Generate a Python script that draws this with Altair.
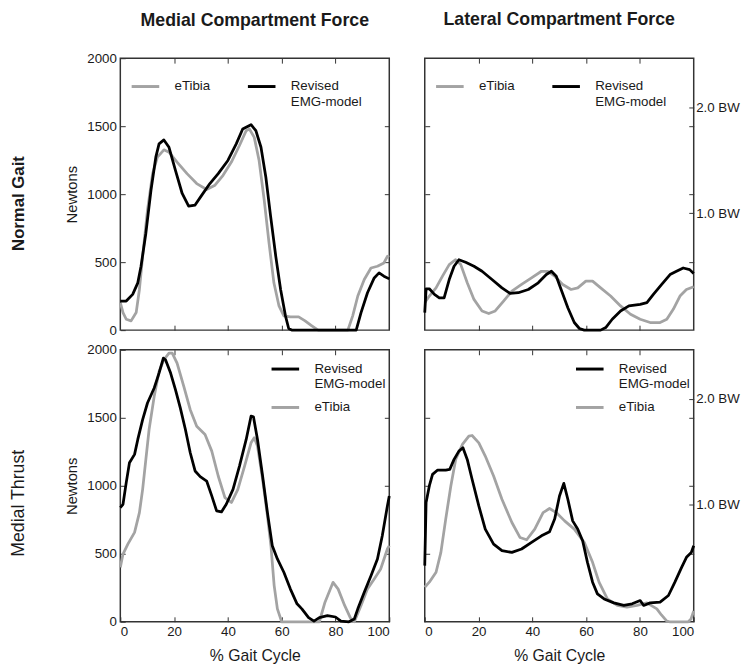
import json
import altair as alt
import pandas as pd

# ---------------- data ----------------
# Normal gait - medial compartment
ng_med_etibia_x = [0, 1, 2.2, 4.0, 5.9, 7.1, 8.3, 10.1, 12.0, 13.8, 16.2, 18.1, 21.1, 24.8, 28.4, 32.1, 35.2,
                   38.2, 41.3, 44.3, 46.8, 48.0, 49.8, 51.6, 53.5, 55.3, 57.1, 59.0, 60.8, 63.2, 66.3, 68.7,
                   71.2, 73.0, 73.6, 84.6, 86.4, 88.3, 90.7, 93.2, 95.6, 98.0, 99.3, 100]
ng_med_etibia_y = [202, 129, 80, 68, 129, 299, 543, 883, 1151, 1272, 1326, 1309, 1236, 1151, 1078, 1034, 1066,
                   1139, 1236, 1358, 1467, 1479, 1418, 1248, 956, 640, 348, 178, 105, 97, 97, 68,
                   32, 7, 0, 0, 105, 251, 372, 457, 470, 494, 543, 547]
ng_med_emg_x = [0, 2.2, 4.6, 6.5, 7.7, 9.5, 11.4, 13.2, 14.4, 16.2, 18.1, 20.5, 23.0, 25.4, 27.8, 30.3, 33.3,
                36.4, 40.0, 43.1, 45.5, 48.6, 50.4, 52.3, 54.1, 55.9, 57.8, 59.6, 61.4, 62.6, 63.9, 87.7,
                89.5, 91.9, 94.4, 96.2, 98.0, 100]
ng_med_emg_y = [214, 214, 263, 348, 470, 713, 1029, 1272, 1370, 1399, 1345, 1175, 1005, 912, 920, 993, 1078,
                1151, 1248, 1370, 1479, 1511, 1467, 1345, 1126, 835, 543, 299, 105, 12, 0, 0,
                129, 275, 384, 421, 397, 377]

# Normal gait - lateral compartment
ng_lat_etibia_x = [0, 1.7, 4.2, 6.6, 9.1, 11.5, 13.4, 15.8, 18.3, 21.3, 23.8, 26.2, 29.3, 32.4, 36.0, 39.7,
                   43.4, 45.8, 48.3, 51.3, 54.4, 56.9, 59.9, 62.4, 65.4, 69.1, 72.8, 76.5, 80.1, 83.8, 87.5,
                   90.0, 92.4, 94.9, 97.3, 100]
ng_lat_etibia_y = [202, 251, 311, 397, 482, 518, 482, 348, 226, 141, 122, 141, 214, 287, 336, 384,
                   433, 433, 397, 336, 299, 311, 360, 360, 311, 251, 178, 117, 80, 56, 56,
                   80, 153, 251, 299, 319]
ng_lat_emg_x = [0, 0.5, 1.7, 3.6, 5.4, 7.2, 9.1, 10.9, 12.7, 15.2, 18.3, 21.3, 25.0, 28.7, 31.7, 34.8, 38.5,
                42.2, 45.2, 47.1, 48.9, 50.7, 53.2, 55.6, 57.5, 59.3, 65.4, 67.3, 69.7, 72.8, 75.9, 80.1,
                82.6, 85.0, 88.1, 91.2, 93.6, 96.1, 98.5, 100]
ng_lat_emg_y = [129, 304, 304, 263, 238, 238, 372, 470, 518, 499, 470, 433, 372, 311, 270, 275, 299,
                348, 409, 433, 397, 299, 165, 56, 12, 0, 0, 19, 80, 141, 178, 190,
                202, 263, 336, 409, 433, 457, 445, 416]

# Medial thrust - medial compartment
mt_med_etibia_x = [0, 1, 2.8, 5.3, 7.1, 8.3, 9.5, 10.7, 12.6, 14.4, 16.2, 18.1, 19.3, 21.1, 23.6, 26.0, 28.4,
                   31.5, 34.0, 36.4, 38.9, 41.3, 43.7, 46.2, 48.6, 49.8, 51.0, 52.9, 54.7, 56.0, 57.2, 58.4,
                   60, 74, 76.1, 79.1, 81, 83.4, 85.5, 87, 89.5, 91.9, 94.4, 96.8, 99.3, 100]
mt_med_etibia_y = [400, 498, 571, 657, 803, 974, 1194, 1414, 1658, 1841, 1927, 1976, 1976, 1902, 1731, 1560, 1438,
                   1377, 1255, 1072, 913, 877, 974, 1145, 1316, 1353, 1292, 1048, 779, 559, 266, 95,
                   0, 0, 144, 290, 240, 120, 30, 0, 120, 242, 315, 388, 535, 560]
mt_med_emg_x = [0, 1, 2.2, 3.4, 5.3, 6.5, 8.3, 10.1, 12.6, 14.4, 16.0, 16.8, 18.7, 20.5, 22.3, 24.2, 26.0,
                27.8, 29.7, 32.1, 34.0, 35.8, 37.6, 39.4, 41.9, 44.3, 46.8, 48.6, 49.5, 51.0, 52.9, 54.7,
                56.5, 58.4, 60.8, 63.2, 65.7, 67.5, 70, 72, 74, 77, 80, 82, 85, 87, 88.3, 90.7, 93.2,
                95.6, 97.4, 99.3, 100]
mt_med_emg_y = [840, 864, 1023, 1170, 1231, 1341, 1487, 1609, 1719, 1829, 1939, 1927, 1829, 1707, 1573, 1414, 1243,
                1109, 1067, 1035, 926, 816, 808, 864, 974, 1145, 1341, 1512, 1507, 1341, 1072, 803,
                559, 462, 364, 242, 132, 95, 30, 5, 30, 45, 35, 5, 0, 20, 95, 217, 339,
                462, 632, 852, 925]

# Medial thrust - lateral compartment
mt_lat_etibia_x = [0, 1.7, 4.2, 6.0, 7.8, 9.7, 11.5, 14.0, 16.4, 17.6, 20.1, 22.5, 25.6, 28.7, 32.4, 35.4,
                   37.9, 40.9, 44.0, 46.4, 48.9, 52.0, 55.6, 59.3, 62.4, 64.8, 67.9, 71.6, 75.2, 78.9, 82.6,
                   86.3, 88, 90, 91, 98, 99, 100]
mt_lat_etibia_y = [254, 291, 364, 510, 755, 999, 1194, 1304, 1365, 1370, 1316, 1219, 1072, 901, 730, 620,
                   603, 681, 803, 833, 803, 742, 681, 584, 437, 291, 168, 120, 107, 120, 139,
                   95, 50, 5, 0, 0, 20, 80]
mt_lat_emg_x = [0, 0.5, 1.7, 2.9, 4.8, 7.8, 9.3, 10.9, 12.7, 14.2, 15.8, 17.6, 20.1, 22.5, 25.6, 28.7, 32.4,
                36.0, 39.7, 43.4, 46.4, 48.3, 50.1, 51.7, 53.2, 55.0, 56.9, 58.7, 60.5, 62.4, 64.2, 66.7,
                70.3, 74.0, 77.1, 80.1, 81.4, 83.8, 87.5, 90.6, 93.0, 95.5, 97.3, 99.1, 100]
mt_lat_emg_y = [413, 877, 999, 1084, 1116, 1116, 1121, 1194, 1255, 1280, 1194, 1048, 852, 681, 571, 523, 510,
                535, 584, 632, 662, 755, 925, 1018, 901, 742, 681, 596, 437, 291, 205, 168,
                139, 120, 132, 156, 120, 139, 144, 193, 291, 400, 474, 510, 559]

SERIES = ["eTibia", "Revised EMG-model"]
SERIES_COLORS = {"eTibia": "#a3a3a3", "Revised EMG-model": "#000000"}
LEGEND_LINES = {"eTibia": ["eTibia"], "Revised EMG-model": ["Revised", "EMG-model"]}
X_TICKS = [0, 20, 40, 60, 80, 100]
X_INNER = [20, 40, 60, 80]
Y_TICKS = [0, 500, 1000, 1500, 2000]
Y_INNER = [500, 1000, 1500]
BW_VALUES = [860, 1640]
BW_LABELS = ["1.0 BW", "2.0 BW"]
COL_TITLES = ["Medial Compartment Force", "Lateral Compartment Force"]
ROW_TITLES = ["Normal Gait", "Medial Thrust"]
X_TITLE = "% Gait Cycle"
Y_TITLE = "Newtons"

# ---------------- styling ----------------
W, H = 273, 276
TICK = 5
SANS = "Liberation Sans, Arial, sans-serif"
TXT = "#1a1a1a"


def frame_axis(orient, values, **kw):
    opts = dict(orient=orient, values=values, offset=-TICK, tickSize=TICK, tickColor="#333333",
                tickWidth=1, domain=False, grid=False, labels=False, title=None, labelOverlap=False)
    opts.update(kw)
    return alt.Axis(**opts)


def legend_expr(equal_height):
    n = max(len(v) for v in LEGEND_LINES.values())
    vals = {}
    for s in SERIES:
        lines = list(LEGEND_LINES[s])
        if equal_height:
            lines += [""] * (n - len(lines))
        vals[s] = json.dumps(lines) if len(lines) > 1 else json.dumps(lines[0])
    return f"datum.label == {json.dumps(SERIES[0])} ? {vals[SERIES[0]]} : {vals[SERIES[1]]}"


def panel(e_x, e_y, r_x, r_y, left_col, bottom_row, top_row, col_title=None):
    df_e = pd.DataFrame({"pct": e_x, "force": e_y, "series": SERIES[0]})
    df_r = pd.DataFrame({"pct": r_x, "force": r_y, "series": SERIES[1]})

    order = SERIES if top_row else SERIES[::-1]
    if top_row:
        legend = alt.Legend(orient="none", legendX=10, legendY=13, direction="horizontal",
                            columnPadding=31, labelExpr=legend_expr(True))
    else:
        legend = alt.Legend(orient="none", legendX=152, legendY=4, direction="vertical",
                            rowPadding=1, labelExpr=legend_expr(False))
    legend.title = None
    legend.symbolType = "stroke"
    legend.symbolSize = 784
    legend.symbolStrokeWidth = 3
    legend.labelFont = SANS
    legend.labelFontSize = 13.5
    legend.labelColor = TXT
    legend.labelOffset = 14
    legend.padding = 0

    color = alt.Color("series:N", scale=alt.Scale(domain=order, range=[SERIES_COLORS[s] for s in order]),
                      legend=legend)
    xs = alt.Scale(domain=[0, 100], nice=False, zero=False)
    ys = alt.Scale(domain=[0, 2000], nice=False)

    if left_col:
        right_axis = frame_axis("right", Y_INNER)
        left_axis = frame_axis("left", Y_TICKS, labels=True, labelPadding=4, format="d",
                               title=Y_TITLE, titlePadding=7)
    else:
        bw_expr = " : ".join(f"datum.value == {v} ? {json.dumps(l)}" for v, l in zip(BW_VALUES, BW_LABELS)) + " : ''"
        right_axis = frame_axis("right", sorted(Y_INNER + BW_VALUES), labels=True, labelExpr=bw_expr,
                                labelFontSize=13.5, labelPadding=2)
        left_axis = frame_axis("left", Y_INNER)
    if bottom_row:
        bottom_axis = frame_axis("bottom", X_TICKS, labels=True, labelPadding=3, title=X_TITLE,
                                 titlePadding=10, titleFontSize=16)
    else:
        bottom_axis = frame_axis("bottom", X_INNER)
    top_axis = frame_axis("top", X_INNER)

    gray = alt.Chart(df_e).mark_line(strokeWidth=2.8, strokeJoin="round").encode(
        x=alt.X("pct:Q", scale=xs, axis=top_axis),
        y=alt.Y("force:Q", scale=ys, axis=right_axis),
        color=color,
    )
    black = alt.Chart(df_r).mark_line(strokeWidth=2.8, strokeJoin="round").encode(
        x=alt.X("pct:Q", scale=xs, axis=bottom_axis),
        y=alt.Y("force:Q", scale=ys, axis=left_axis),
        color=color,
    )
    ch = alt.layer(gray, black).resolve_axis(x="independent", y="independent").properties(width=W, height=H)
    if col_title:
        ch = ch.properties(title=alt.TitleParams(col_title, font=SANS, fontSize=18, fontWeight="bold",
                                                 color=TXT, anchor="middle", frame="group",
                                                 offset=22 if left_col else 29))
    return ch


p11 = panel(ng_med_etibia_x, ng_med_etibia_y, ng_med_emg_x, ng_med_emg_y, True, False, True, COL_TITLES[0])
p12 = panel(ng_lat_etibia_x, ng_lat_etibia_y, ng_lat_emg_x, ng_lat_emg_y, False, False, True, COL_TITLES[1])
p21 = panel(mt_med_etibia_x, mt_med_etibia_y, mt_med_emg_x, mt_med_emg_y, True, True, False)
p22 = panel(mt_lat_etibia_x, mt_lat_etibia_y, mt_lat_emg_x, mt_lat_emg_y, False, True, False)

row1 = alt.hconcat(p11, p12, spacing=30).resolve_scale(color="independent").resolve_legend(
    color="independent").properties(
    title=alt.TitleParams(ROW_TITLES[0], orient="left", anchor="middle", font=SANS, fontSize=17,
                          fontWeight="bold", color=TXT, offset=37, dx=-30))
row2 = alt.hconcat(p21, p22, spacing=30).resolve_scale(color="independent").resolve_legend(
    color="independent").properties(
    title=alt.TitleParams(ROW_TITLES[1], orient="left", anchor="middle", font=SANS, fontSize=18,
                          fontWeight="normal", color=TXT, offset=37))

chart = alt.vconcat(row1, row2, spacing=4).resolve_scale(color="independent").resolve_legend(
    color="independent").properties(
    padding={"left": 2, "top": -3, "right": 0, "bottom": 0}
).configure_view(stroke="#333333", strokeWidth=1.5).configure_axis(
    labelFont=SANS, labelFontSize=13.5, labelColor=TXT,
    titleFont=SANS, titleFontSize=15, titleFontWeight="normal", titleColor=TXT,
)

chart.save("out.html", embed_options={"renderer": "svg", "actions": False})
